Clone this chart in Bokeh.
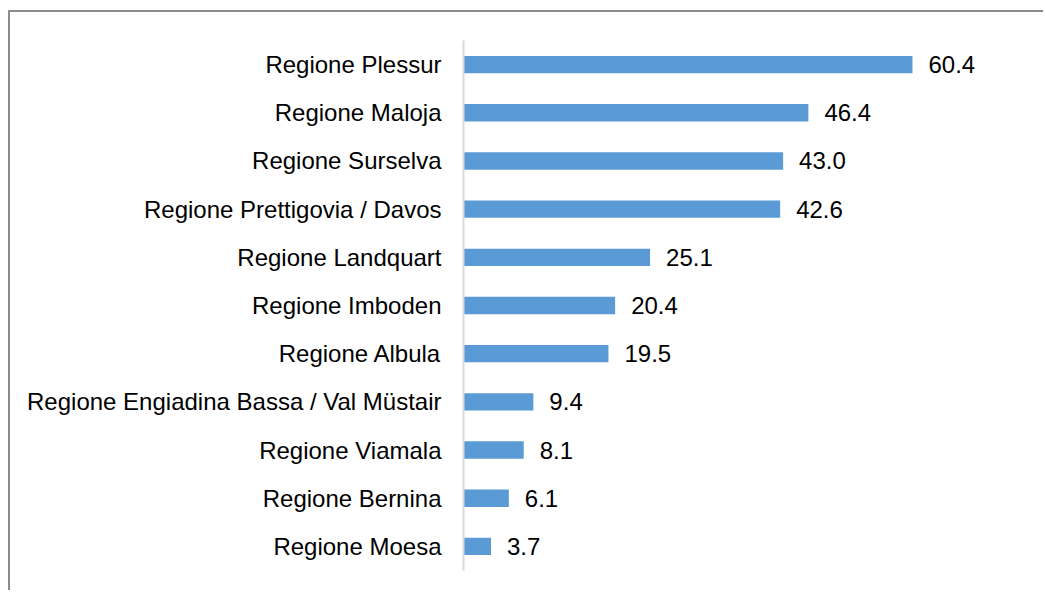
from bokeh.plotting import figure
from bokeh.models import FactorRange, Range1d, ColumnDataSource, LabelSet
from bokeh.core.properties import value
from bokeh.embed import file_html
from bokeh.resources import INLINE

regions = [
    "Regione Plessur",
    "Regione Maloja",
    "Regione Surselva",
    "Regione Prettigovia / Davos",
    "Regione Landquart",
    "Regione Imboden",
    "Regione Albula",
    "Regione Engiadina Bassa / Val Müstair",
    "Regione Viamala",
    "Regione Bernina",
    "Regione Moesa",
]
values = [60.4, 46.4, 43.0, 42.6, 25.1, 20.4, 19.5, 9.4, 8.1, 6.1, 3.7]
labels = [f"{v:.1f}" for v in values]

source = ColumnDataSource(dict(region=regions, value=values, label=labels))

p = figure(
    width=1035, height=580,
    y_range=FactorRange(factors=list(reversed(regions)), range_padding=0),
    x_range=Range1d(0, 78.3),
    x_axis_location=None,
    output_backend="svg", toolbar_location=None,
    min_border_left=453, min_border_right=0,
    min_border_top=28, min_border_bottom=22,
)
p.styles = {"border-top": "2px solid #8c8c8c", "border-left": "2px solid #8c8c8c",
            "margin-top": "10px", "margin-left": "8px"}
p.outline_line_color = None
p.xgrid.visible = False
p.ygrid.visible = False
p.background_fill_color = "white"
p.border_fill_color = "white"

p.hbar(y="region", right="value", left=0, height=0.36, source=source,
       fill_color="#5B9BD5", line_color=None)

ax = p.yaxis[0]
ax.axis_line_color = "#d9d9d9"
ax.axis_line_width = 2
ax.major_tick_line_color = None
ax.minor_tick_line_color = None
ax.major_tick_out = 0
ax.major_label_standoff = 22
ax.major_label_text_font = "Liberation Sans"
ax.major_label_text_font_size = "24px"
ax.major_label_text_color = "#000000"

lab = LabelSet(x="value", y="region", text="label", source=source,
               x_offset=16, text_baseline="middle", text_align="left",
               text_font=value("Liberation Sans"), text_font_size=value("24px"),
               text_color="#000000")
p.add_layout(lab)

open("out.html", "w").write(file_html(p, INLINE))
